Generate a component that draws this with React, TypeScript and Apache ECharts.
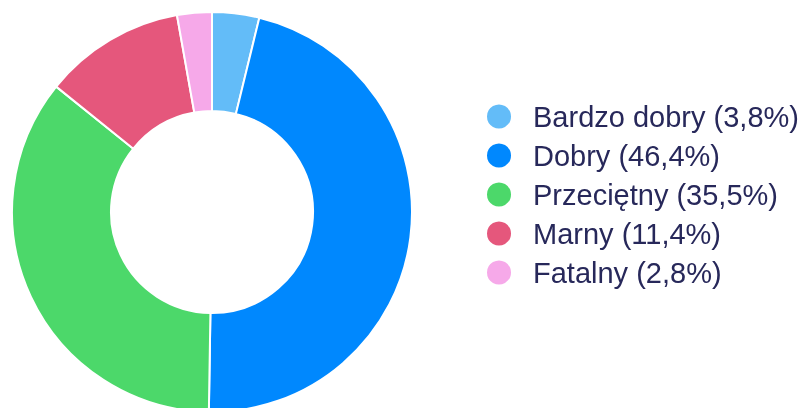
import React, { useEffect, useRef } from "react";
import * as echarts from "echarts";

const categories = ["Bardzo dobry", "Dobry", "Przeciętny", "Marny", "Fatalny"];
const values = [3.8, 46.4, 35.5, 11.4, 2.8];
const colors = ["#63bcf8", "#0088fe", "#4cd86a", "#e5577c", "#f6a9e9"];

export default function App() {
  const ref = useRef<HTMLDivElement>(null);
  useEffect(() => {
    if (!ref.current) return;
    const chart = echarts.init(ref.current, undefined, { renderer: "svg" });
    const data = categories.map((name, i) => ({
      name,
      value: values[i],
      itemStyle: { color: colors[i] },
    }));
    chart.setOption({
      animation: false,
      legend: {
        orient: "vertical",
        left: 480,
        top: 97,
        icon: "circle",
        itemWidth: 26,
        itemHeight: 26,
        itemGap: 10,
        textStyle: {
          fontFamily: "Liberation Sans, Arial, sans-serif",
          fontSize: 29,
          lineHeight: 29,
          color: "#27285a",
          padding: [0, 0, 0, 16],
        },
        formatter: (name: string) => {
          const i = categories.indexOf(name);
          return `${name} (${values[i].toFixed(1).replace(".", ",")}%)`;
        },
        data: categories,
      },
      series: [
        {
          type: "pie",
          center: [212, 212],
          radius: [101, 200],
          startAngle: 90,
          clockwise: true,
          label: { show: false },
          labelLine: { show: false },
          itemStyle: { borderColor: "#ffffff", borderWidth: 2 },
          emphasis: { disabled: true },
          data,
        },
      ],
    });
    return () => chart.dispose();
  }, []);
  return (
    <div
      ref={ref}
      style={{ position: "fixed", left: 0, top: 0, width: 802, height: 408 }}
    />
  );
}
